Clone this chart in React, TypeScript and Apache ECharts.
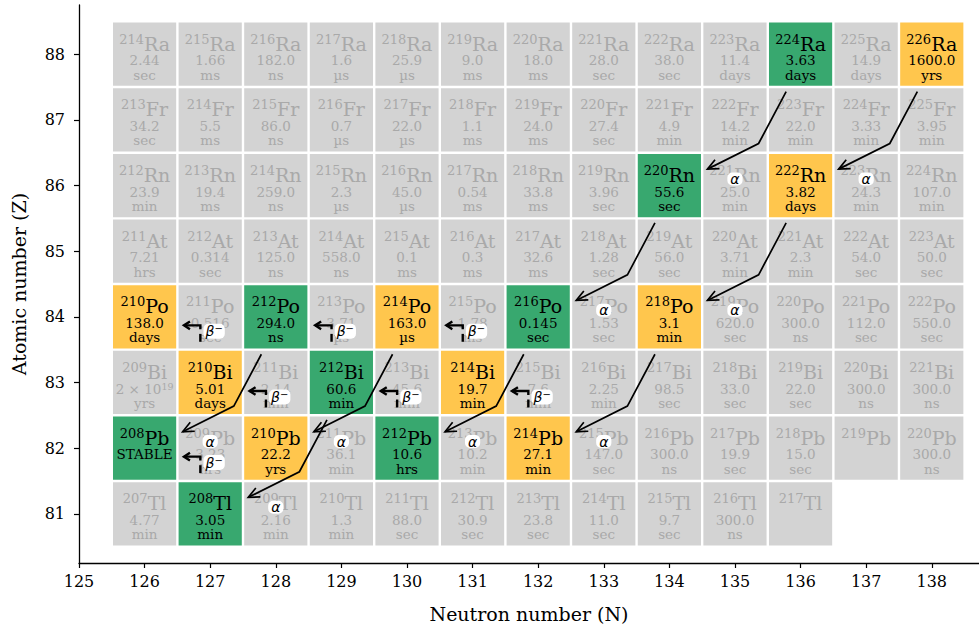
import React, { useEffect, useRef } from 'react';
import * as echarts from 'echarts';

const SERIF = '"DejaVu Serif", "Liberation Serif", serif';
const MATH = '"DejaVu Sans", sans-serif';

const GRAY = '#d3d3d3';
const GRAY_TEXT = '#a9a9a9';
const THORIUM_COLOR = '#38a86f';
const URANIUM_COLOR = '#ffc64d';

// Axis ticks
const N_TICKS = [125, 126, 127, 128, 129, 130, 131, 132, 133, 134, 135, 136, 137, 138];
const Z_TICKS = [81, 82, 83, 84, 85, 86, 87, 88];

// Each row starts at this neutron number
const FIRST_N = 126;

// Half-lives per element (Infinity = stable, null = unknown)
const RA_HALF_LIVES = [2.44, 1.66, 182.0, 1.6, 25.9, 9.0, 18.0, 28.0, 38.0, 11.4, 3.63, 14.9, 1600.0];
const RA_UNITS = ['sec', 'ms', 'ns', 'µs', 'µs', 'ms', 'ms', 'sec', 'sec', 'days', 'days', 'days', 'yrs'];
const FR_HALF_LIVES = [34.2, 5.5, 86.0, 0.7, 22.0, 1.1, 24.0, 27.4, 4.9, 14.2, 22.0, 3.33, 3.95];
const FR_UNITS = ['sec', 'ms', 'ns', 'µs', 'µs', 'ms', 'ms', 'sec', 'min', 'min', 'min', 'min', 'min'];
const RN_HALF_LIVES = [23.9, 19.4, 259.0, 2.3, 45.0, 0.54, 33.8, 3.96, 55.6, 25.0, 3.82, 24.3, 107.0];
const RN_UNITS = ['min', 'ms', 'ns', 'µs', 'µs', 'ms', 'ms', 'sec', 'sec', 'min', 'days', 'min', 'min'];
const AT_HALF_LIVES = [7.21, 0.314, 125.0, 558.0, 0.1, 0.3, 32.6, 1.28, 56.0, 3.71, 2.3, 54.0, 50.0];
const AT_UNITS = ['hrs', 'sec', 'ns', 'ns', 'ms', 'ms', 'ms', 'sec', 'sec', 'min', 'min', 'sec', 'sec'];
const PO_HALF_LIVES = [138.0, 0.516, 294.0, 3.71, 163.0, 1.78, 0.145, 1.53, 3.1, 620.0, 300.0, 112.0, 550.0];
const PO_UNITS = ['days', 'sec', 'ns', 'µs', 'µs', 'ms', 'sec', 'sec', 'min', 'sec', 'ns', 'sec', 'sec'];
const BI_HALF_LIVES = [2e19, 5.01, 2.14, 60.6, 45.6, 19.7, 7.6, 2.25, 98.5, 33.0, 22.0, 300.0, 300.0];
const BI_UNITS = ['yrs', 'days', 'min', 'min', 'min', 'min', 'min', 'min', 'sec', 'sec', 'sec', 'ns', 'ns'];
const PB_HALF_LIVES = [Infinity, 3.23, 22.2, 36.1, 10.6, 10.2, 27.1, 147.0, 300.0, 19.9, 15.0, null, 300.0];
const PB_UNITS = ['', 'hrs', 'yrs', 'min', 'hrs', 'min', 'min', 'sec', 'ns', 'sec', 'sec', null, 'ns'];
const TL_HALF_LIVES = [4.77, 3.05, 2.16, 1.3, 88.0, 30.9, 23.8, 11.0, 9.7, 300.0, null];
const TL_UNITS = ['min', 'min', 'min', 'min', 'sec', 'sec', 'sec', 'sec', 'sec', 'ns', null];

// Decay chain members
const THORIUM_SERIES = ['224Ra', '220Rn', '216Po', '212Pb', '212Bi', '212Po', '208Tl', '208Pb'];
const URANIUM_SERIES = ['226Ra', '222Rn', '218Po', '214Pb', '214Bi', '214Po', '210Pb', '210Bi', '210Po'];

// Parents of the drawn decays
const ALPHA_EMITTERS = ['226Ra', '222Rn', '218Po', '214Po', '224Ra', '220Rn', '216Po', '212Bi', '212Po'];
const BETA_EMITTERS = ['214Pb', '214Bi', '210Pb', '210Bi', '212Pb', '212Bi', '208Tl'];

const ROWS = [
  { symbol: 'Ra', z: 88, halfLives: RA_HALF_LIVES, units: RA_UNITS },
  { symbol: 'Fr', z: 87, halfLives: FR_HALF_LIVES, units: FR_UNITS },
  { symbol: 'Rn', z: 86, halfLives: RN_HALF_LIVES, units: RN_UNITS },
  { symbol: 'At', z: 85, halfLives: AT_HALF_LIVES, units: AT_UNITS },
  { symbol: 'Po', z: 84, halfLives: PO_HALF_LIVES, units: PO_UNITS },
  { symbol: 'Bi', z: 83, halfLives: BI_HALF_LIVES, units: BI_UNITS },
  { symbol: 'Pb', z: 82, halfLives: PB_HALF_LIVES, units: PB_UNITS },
  { symbol: 'Tl', z: 81, halfLives: TL_HALF_LIVES, units: TL_UNITS },
];

const Z_OF: Record<string, number> = {};
ROWS.forEach((r) => { Z_OF[r.symbol] = r.z; });

type Cell = { n: number; z: number; a: number; symbol: string; halfLife: number | null; unit: string | null };

const CELLS: Cell[] = ROWS.flatMap((row) =>
  row.halfLives.map((hl, i) => {
    const n = FIRST_N + i;
    return { n, z: row.z, a: n + row.z, symbol: row.symbol, halfLife: hl, unit: row.units[i] };
  })
);

function nuclidePosition(label: string): [number, number] {
  const a = parseInt(label, 10);
  const sym = label.replace(/^\d+/, '');
  const z = Z_OF[sym];
  return [a - z, z];
}

const ALPHA_DATA = ALPHA_EMITTERS.map(nuclidePosition);
const BETA_DATA = BETA_EMITTERS.map(nuclidePosition);

function formatValue(v: number): string {
  return Number.isInteger(v) ? v.toFixed(1) : String(v);
}

function headPoints(from: number[], to: number[], len: number, half: number) {
  const dx = to[0] - from[0];
  const dy = to[1] - from[1];
  const d = Math.hypot(dx, dy) || 1;
  const ux = dx / d;
  const uy = dy / d;
  const px = -uy;
  const py = ux;
  return [
    [to[0] - len * ux + half * px, to[1] - len * uy + half * py],
    [to[0], to[1]],
    [to[0] - len * ux - half * px, to[1] - len * uy - half * py],
  ];
}

const VALUE_SIZE = 13.5;

function renderCell(params: any, api: any) {
  const cell = CELLS[params.dataIndex];
  const [cx, cy] = api.coord([cell.n, cell.z]);
  const [w, h] = api.size([1, 1]);
  const key = `${cell.a}${cell.symbol}`;
  const inThorium = THORIUM_SERIES.includes(key);
  const inUranium = URANIUM_SERIES.includes(key);
  const fill = inThorium ? THORIUM_COLOR : inUranium ? URANIUM_COLOR : GRAY;
  const ink = inThorium || inUranium ? '#000' : GRAY_TEXT;
  const inset = 1.2;
  const children: any[] = [
    {
      type: 'rect',
      shape: { x: cx - w / 2 + inset, y: cy - h / 2 + inset, width: w - 2 * inset, height: h - 2 * inset },
      style: { fill },
    },
    {
      type: 'text',
      x: cx,
      y: cy - 10.5,
      style: {
        text: `{m|${cell.a}}{s|${cell.symbol}}`,
        align: 'center',
        verticalAlign: 'middle',
        rich: {
          m: { fontSize: 13, fontFamily: SERIF, fill: ink, lineHeight: 10, verticalAlign: 'top' },
          s: { fontSize: 19, fontFamily: SERIF, fill: ink, lineHeight: 22 },
        },
      },
    },
  ];
  const hl = cell.halfLife;
  if (hl !== null) {
    if (!isFinite(hl)) {
      children.push({
        type: 'text', x: cx, y: cy + 6.2,
        style: { text: 'STABLE', fontSize: VALUE_SIZE, fontFamily: SERIF, fill: ink, align: 'center', verticalAlign: 'middle' },
      });
    } else if (hl >= 1e6) {
      const exp = Math.round(Math.log10(hl));
      const mant = Math.round(hl / Math.pow(10, exp));
      children.push({
        type: 'text', x: cx, y: cy + 6.2,
        style: {
          text: `{v|${mant} × 10}{p|${exp}}`,
          align: 'center', verticalAlign: 'middle',
          rich: {
            v: { fontSize: VALUE_SIZE, fontFamily: SERIF, fill: ink, lineHeight: 15 },
            p: { fontSize: 9.5, fontFamily: SERIF, fill: ink, lineHeight: 9, verticalAlign: 'top' },
          },
        },
      });
    } else {
      children.push({
        type: 'text', x: cx, y: cy + 6.2,
        style: { text: formatValue(hl), fontSize: VALUE_SIZE, fontFamily: SERIF, fill: ink, align: 'center', verticalAlign: 'middle' },
      });
    }
    if (cell.unit) {
      children.push({
        type: 'text', x: cx, y: cy + 20.5,
        style: { text: cell.unit, fontSize: VALUE_SIZE, fontFamily: SERIF, fill: ink, align: 'center', verticalAlign: 'middle' },
      });
    }
  }
  return { type: 'group', children };
}

function renderAlphaArrow(params: any, api: any) {
  const n = api.value(0);
  const z = api.value(1);
  const p0 = api.coord([n - 0.22, z - 0.57]);
  const p1 = api.coord([n - 0.64, z - 1.36]);
  const p2 = api.coord([n - 1.42, z - 1.75]);
  return {
    type: 'group',
    children: [
      { type: 'polyline', shape: { points: [p0, p1, p2] }, style: { stroke: '#000', lineWidth: 1.7, fill: null } },
      { type: 'polyline', shape: { points: headPoints(p1, p2, 11, 5) }, style: { stroke: '#000', lineWidth: 1.7, fill: null } },
    ],
  };
}

function renderBetaArrow(params: any, api: any) {
  const n = api.value(0);
  const z = api.value(1);
  const tip = api.coord([n - 0.4, z + 0.87]);
  const corner = api.coord([n - 0.15, z + 0.87]);
  const cornerDown = api.coord([n - 0.15, z + 0.81]);
  const barTop = api.coord([n - 0.15, z + 0.74]);
  const barBottom = api.coord([n - 0.15, z + 0.62]);
  const line = { stroke: '#000', lineWidth: 2.4, fill: null };
  return {
    type: 'group',
    children: [
      { type: 'polyline', shape: { points: [cornerDown, corner, tip] }, style: line },
      { type: 'polyline', shape: { points: headPoints(corner, tip, 6, 3.8) }, style: line },
      { type: 'line', shape: { x1: barTop[0], y1: barTop[1], x2: barBottom[0], y2: barBottom[1] }, style: line },
    ],
  };
}

function renderAlphaLabel(params: any, api: any) {
  const n = api.value(0);
  const z = api.value(1);
  const [x, y] = api.coord([n - 1, z - 1.9]);
  return {
    type: 'text', x, y,
    style: {
      text: 'α', fontSize: 14, fontStyle: 'italic', fontFamily: MATH, fill: '#000',
      backgroundColor: '#fff', borderRadius: 5, padding: [0, 3, 0, 3], lineHeight: 13,
      align: 'center', verticalAlign: 'middle',
    },
  };
}

function renderBetaLabel(params: any, api: any) {
  const n = api.value(0);
  const z = api.value(1);
  const [x, y] = api.coord([n + 0.06, z + 0.78]);
  return {
    type: 'text', x, y,
    style: {
      text: '{b|β}{m|−}',
      backgroundColor: '#fff', borderRadius: 5, padding: [0, 2, 0, 2],
      align: 'center', verticalAlign: 'middle',
      rich: {
        b: { fontSize: 14, fontStyle: 'italic', fontFamily: MATH, fill: '#000', lineHeight: 15 },
        m: { fontSize: 10, fontFamily: MATH, fill: '#000', lineHeight: 9, verticalAlign: 'top' },
      },
    },
  };
}

export default function App() {
  const ref = useRef<HTMLDivElement>(null);

  useEffect(() => {
    if (!ref.current) return;
    const chart = echarts.init(ref.current, undefined, { renderer: 'svg' });
    const tickText = { color: '#000', fontFamily: SERIF, fontSize: 16 };
    const titleText = { color: '#000', fontFamily: SERIF, fontSize: 19 };
    chart.setOption({
      animation: false,
      backgroundColor: '#fff',
      grid: { left: 79, right: 0, top: 5, bottom: 70, containLabel: false, outerBoundsMode: 'none' },
      xAxis: {
        type: 'value',
        min: 125,
        max: 138.72,
        name: 'Neutron number (N)',
        nameLocation: 'middle',
        nameGap: 41,
        nameTextStyle: titleText,
        axisLine: { show: true, onZero: false, lineStyle: { color: '#000', width: 1.3 } },
        axisTick: { show: true, length: 5, customValues: N_TICKS, lineStyle: { color: '#000', width: 1.2 } },
        axisLabel: { show: true, margin: 10, customValues: N_TICKS, ...tickText },
        splitLine: { show: false },
      },
      yAxis: {
        type: 'value',
        min: 80.25,
        max: 88.75,
        name: 'Atomic number (Z)',
        nameLocation: 'middle',
        nameGap: 51,
        nameTextStyle: titleText,
        axisLine: { show: true, onZero: false, lineStyle: { color: '#000', width: 1.3 } },
        axisTick: { show: true, length: 5, customValues: Z_TICKS, lineStyle: { color: '#000', width: 1.2 } },
        axisLabel: { show: true, margin: 14, customValues: Z_TICKS, ...tickText },
        splitLine: { show: false },
      },
      series: [
        {
          type: 'custom', name: 'nuclides', z: 2, clip: false,
          data: CELLS.map((c) => [c.n, c.z, c.a]),
          renderItem: renderCell,
        },
        { type: 'custom', name: 'alpha', z: 3, clip: false, data: ALPHA_DATA, renderItem: renderAlphaArrow },
        { type: 'custom', name: 'beta', z: 3, clip: false, data: BETA_DATA, renderItem: renderBetaArrow },
        { type: 'custom', name: 'alpha labels', z: 4, clip: false, data: ALPHA_DATA, renderItem: renderAlphaLabel },
        { type: 'custom', name: 'beta labels', z: 4, clip: false, data: BETA_DATA, renderItem: renderBetaLabel },
      ],
    });
    return () => chart.dispose();
  }, []);

  return (
    <div
      ref={ref}
      style={{ position: 'fixed', left: 0, top: 0, width: 979, height: 633, background: '#fff' }}
    />
  );
}
